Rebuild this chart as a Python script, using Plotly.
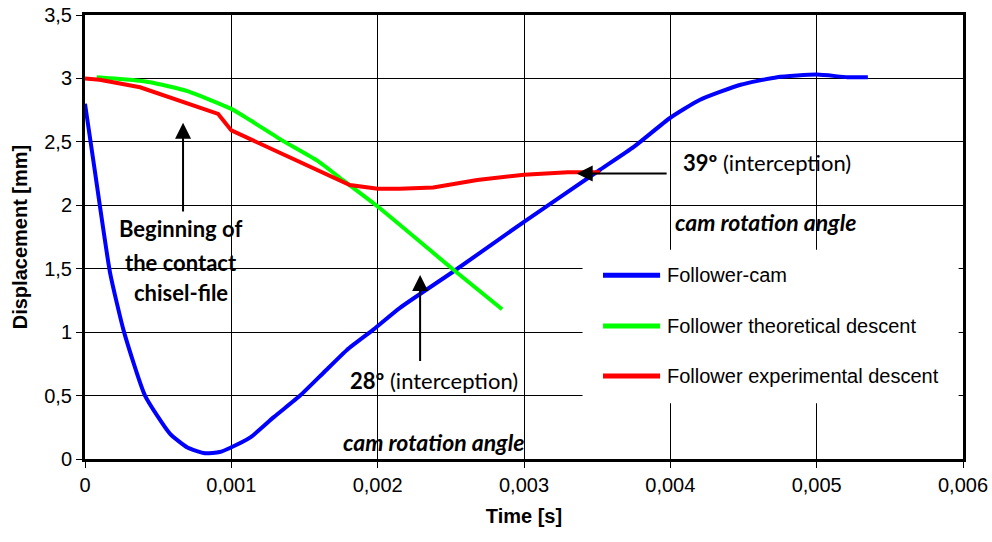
import plotly.graph_objects as go

# series values (time in s, displacement in mm)
cam_t = [0, 0.0000636, 0.000171, 0.000267, 0.00041, 0.00058, 0.0007, 0.00082, 0.00092,
         0.00099, 0.00113, 0.00129, 0.00147, 0.00163, 0.00179, 0.00197, 0.00215, 0.00252,
         0.003, 0.00352, 0.00375, 0.004, 0.0042, 0.00448, 0.00473, 0.005, 0.00521, 0.00535]
cam_y = [2.80, 2.30, 1.47, 1.00, 0.50, 0.20, 0.09, 0.045, 0.055,
         0.087, 0.17, 0.33, 0.50, 0.68, 0.86, 1.02, 1.19, 1.48,
         1.87, 2.28, 2.46, 2.69, 2.83, 2.95, 3.01, 3.03, 3.01, 3.01]

theo_t = [0.00008, 0.00031, 0.000445, 0.0007, 0.001, 0.00113, 0.00135, 0.00159, 0.00176,
          0.002, 0.00252, 0.00285]
theo_y = [3.01, 2.99, 2.97, 2.90, 2.76, 2.67, 2.51, 2.35, 2.20,
          1.99, 1.49, 1.18]

exp_t = [0, 0.0001, 0.000376, 0.00063, 0.00091, 0.001, 0.00117, 0.00142,
         0.00165, 0.00181, 0.002, 0.00215, 0.00238, 0.00268, 0.003, 0.0033, 0.00352]
exp_y = [3.00, 2.99, 2.93, 2.83, 2.72, 2.59, 2.50, 2.36,
         2.24, 2.16, 2.13, 2.13, 2.14, 2.20, 2.24, 2.26, 2.26]

names = ["Follower-cam", "Follower theoretical descent", "Follower experimental descent"]
colors = ["#0000ff", "#00ff00", "#ff0000"]

x_ticks = [0, 0.001, 0.002, 0.003, 0.004, 0.005, 0.006]
y_ticks = [0, 0.5, 1, 1.5, 2, 2.5, 3, 3.5]

FONT = "Arial, Liberation Sans, sans-serif"
NOTE = "Lato, Open Sans, sans-serif"

fig = go.Figure()
series = [(cam_t, cam_y, "spline"), (theo_t, theo_y, "spline"), (exp_t, exp_y, "linear")]
for (t, y, shape), name, color in zip(series, names, colors):
    fig.add_trace(go.Scatter(x=t, y=y, mode="lines", name=name, showlegend=False,
                             line=dict(color=color, width=4, shape=shape, smoothing=0.5)))

# white box behind the legend, hiding the grid
fig.add_shape(type="rect", xref="x", yref="y", x0=0.0034, x1=0.00597, y0=0.44, y1=1.65,
              fillcolor="white", line=dict(width=0), layer="between")

# legend drawn by hand so the sample lines get the original length
leg_y = [0.414, 0.2995, 0.187]
for name, color, ly in zip(names, colors, leg_y):
    fig.add_shape(type="line", xref="paper", yref="paper", x0=0.590, x1=0.655, y0=ly, y1=ly,
                  line=dict(color=color, width=5))
    fig.add_annotation(xref="paper", yref="paper", x=0.661, y=ly, text=name, showarrow=False,
                       xanchor="left", yanchor="middle", font=dict(family=FONT, size=20, color="black"))

notes = [
    dict(x=0.000656, y=1.82, text="<b>Beginning of</b>", xanchor="center", size=22),
    dict(x=0.000656, y=1.55, text="<b>the contact</b>", xanchor="center", size=22),
    dict(x=0.000656, y=1.31, text="<b>chisel-file</b>", xanchor="center", size=22),
    dict(x=0.0018, y=0.62, text="<b>28º</b> (interception)", xanchor="left", size=22),
    dict(x=0.00175, y=0.134, text="<b><i>cam rotation angle</i></b>", xanchor="left", size=23),
    dict(x=0.00407, y=2.34, text="<b>39º</b> (interception)", xanchor="left", size=22),
    dict(x=0.00402, y=1.87, text="<b><i>cam rotation angle</i></b>", xanchor="left", size=23),
]
for n in notes:
    fig.add_annotation(x=n["x"], y=n["y"], text=n["text"], showarrow=False, xanchor=n["xanchor"],
                       yanchor="middle", font=dict(family=NOTE, size=n["size"], color="black"))

arrows = [
    (0.00067, 2.65, 0.00067, 1.94),
    (0.00229, 1.45, 0.00229, 0.76),
    (0.00336, 2.25, 0.003985, 2.25),
]
for x, y, ax, ay in arrows:
    fig.add_annotation(x=x, y=y, ax=ax, ay=ay, xref="x", yref="y", axref="x", ayref="y",
                       text="", showarrow=True, arrowhead=2, arrowsize=1.6, arrowwidth=2,
                       arrowcolor="black")

axis_common = dict(showline=True, linecolor="black", linewidth=3, mirror=True,
                   showgrid=True, gridcolor="black", gridwidth=1, zeroline=False,
                   ticks="outside", ticklen=6, tickcolor="black", tickwidth=1,
                   automargin=False, ticklabeloverflow="allow",
                   tickfont=dict(family=FONT, size=20, color="black"))

fig.update_xaxes(range=[0, 0.006], tickvals=x_ticks, tickformat=".3~f",
                 title=dict(text="<b>Time [s]</b>", font=dict(family=FONT, size=20, color="black"),
                            standoff=14),
                 **axis_common)
fig.update_yaxes(range=[0, 3.5], tickvals=y_ticks, tickformat=".1~f",
                 title=dict(text="<b>Displacement [mm]</b>", font=dict(family=FONT, size=20, color="black"),
                            standoff=12),
                 **axis_common)

fig.update_layout(
    width=992, height=542,
    margin=dict(l=85, r=29, t=15, b=83),
    paper_bgcolor="white", plot_bgcolor="white",
    separators=",.",
    font=dict(family=FONT, color="black"),
)

# drop the page's default 8px body margin so the figure fills the window
fig.write_html("out.html", config={"displayModeBar": False},
               post_script="document.body.style.margin='0';")
